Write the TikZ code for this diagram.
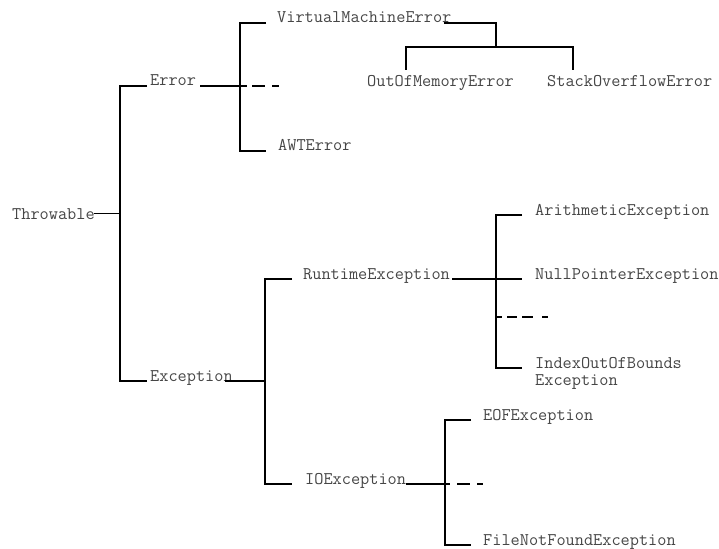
\documentclass[tikz,border=0pt]{standalone}
\usepackage{fontspec}
\definecolor{txtgray}{RGB}{70,70,70}
\begin{document}
\begin{tikzpicture}[x=1pt,y=-1pt,
  lbl/.style={anchor=base west, inner sep=0pt, font=\ttfamily\fontsize{17.8}{19}\selectfont, text=txtgray},
  conn/.style={line width=1.2pt, draw=black},
  thickdash/.style={line width=2.4pt, draw=black},
  thindash/.style={line width=1.2pt, draw=black}]
\useasboundingbox (0,0) rectangle (719,548);
\clip (0,0) rectangle (719,548);
\fill[white] (0,0) rectangle (719,548);
% nodes
\node[lbl] (thr) at (12,219) {Throwable};
\node[lbl] (err) at (150,86) {Error};
\node[lbl] (exc) at (150,381) {Exception};
\node[lbl] (vme) at (277,23) {VirtualMachineError};
\node[lbl] (awt) at (278,151) {AWTError};
\node[lbl] (oom) at (367,87) {OutOfMemoryError};
\node[lbl] (soe) at (547,87) {StackOverflowError};
\node[lbl] (rte) at (303,279) {RuntimeException};
\node[lbl] (ioe) at (305,484) {IOException};
\node[lbl] (ari) at (535,215) {ArithmeticException};
\node[lbl] (npe) at (535,279) {NullPointerException};
\node[lbl] (ioob) at (535,368) {IndexOutOfBounds};
\node[lbl] (ioobb) at (535,385) {Exception};
\node[lbl] (eof) at (483,420) {EOFException};
\node[lbl] (fnf) at (483,545) {FileNotFoundException};
% junction coordinates
\coordinate (t1) at (120,86);
\coordinate (t2) at (120,381);
\coordinate (ev1) at (240,23);
\coordinate (ev2) at (240,151);
\coordinate (eend) at (247,86);
\coordinate (vm1) at (496,23);
\coordinate (vb) at (496,47);
\coordinate (xv1) at (265,279);
\coordinate (xv2) at (265,484);
\coordinate (rv1) at (496,215);
\coordinate (rv2) at (496,368);
\coordinate (iv1) at (445,420);
\coordinate (iv2) at (445,545);
\coordinate (iend) at (450,484);
% Throwable
\draw[conn] ([xshift=-1pt]thr.east) -- (thr.east -| t1);
\draw[conn] ([xshift=-3pt]err.base west) -- (t1) -- (t2) -- ([xshift=-3pt]exc.base west);
% Error subtree
\draw[conn] ([xshift=4pt]err.base east) -- (eend);
\draw[conn] ([xshift=-11pt]vme.base west) -- (ev1) -- (ev2) -- ([xshift=-12pt]awt.base west);
\draw[thickdash] (252,86) -- (265,86);
\draw[thindash] (272,86) -- (279,86);
% VirtualMachineError subtree
\draw[conn] ([xshift=-8pt]vme.base east) -- (vm1) -- (vb);
\draw[conn] ([xshift=39pt,yshift=6pt]oom.north west) |- (vb) -| ([xshift=26pt,yshift=6pt]soe.north west);
% Exception subtree
\draw[conn] ([xshift=-8pt]exc.base east) -- (exc.base east -| xv1);
\draw[conn] ([xshift=-11pt]rte.base west) -- (xv1) -- (xv2) -- ([xshift=-13pt]ioe.base west);
% RuntimeException subtree
\draw[conn] ([xshift=2pt]rte.base east) -- ([xshift=-13pt]npe.base west);
\draw[conn] ([xshift=-13pt]ari.base west) -- (rv1) -- (rv2) -- ([xshift=-13pt]ioob.base west);
\draw[thindash] (496,317) -- (502,317);
\draw[thickdash] (507,317) -- (517,317);
\draw[thickdash] (522,317) -- (533,317);
\draw[thindash] (542,317) -- (548,317);
% IOException subtree
\draw[conn] (ioe.base east) -- (iend);
\draw[conn] ([xshift=-12pt]eof.base west) -- (iv1) -- (iv2) -- ([xshift=-12pt]fnf.base west);
\draw[thickdash] (457,484) -- (470,484);
\draw[thindash] (477,484) -- (483,484);
\end{tikzpicture}
\end{document}
